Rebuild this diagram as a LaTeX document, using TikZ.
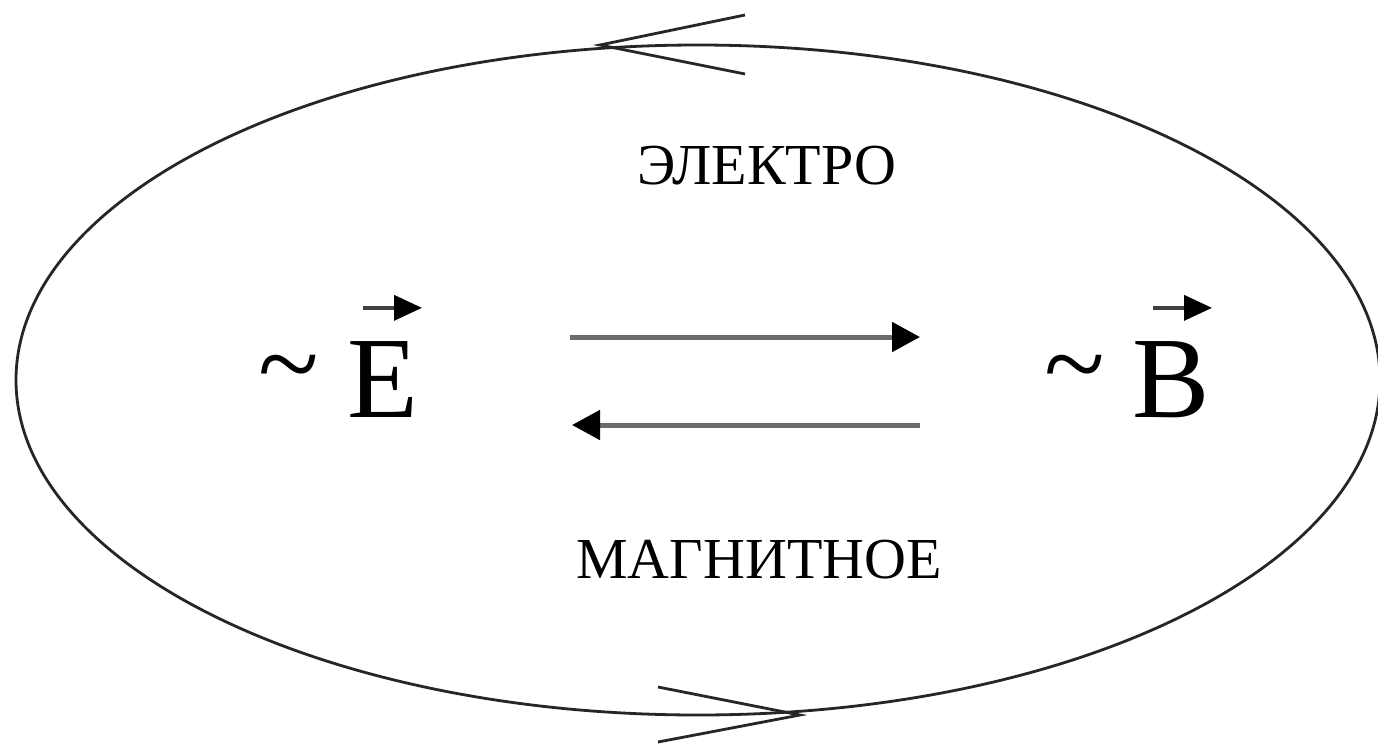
\documentclass[tikz,border=0pt]{standalone}
\usepackage{fontspec}
\setmainfont{Liberation Serif}
\usetikzlibrary{arrows.meta}
\begin{document}
\begin{tikzpicture}[x=1pt,y=-1pt,
  loop/.style={line width=2.8pt,draw=black!85},
  flow/.style={line width=5pt,draw=black!58,-{Triangle[length=28pt,width=29pt,black]}},
  vecarrow/.style={line width=3.8pt,draw=black!75,-{Triangle[length=28pt,width=25pt,black]}},
  word/.style={font=\fontsize{58}{58}\selectfont,inner sep=0pt},
  letter/.style={font=\fontsize{116}{116}\selectfont,inner sep=0pt,anchor=base},
  tild/.style={font=\fontsize{112}{112}\selectfont,inner sep=0pt,anchor=base}]
\useasboundingbox[fill=white] (0,0) rectangle (1378,747);
% big loop
\draw[loop] (698,380) ellipse [x radius=682pt, y radius=335pt];
% open arrowheads on the loop
\coordinate (ta) at (745,15);
\coordinate (tt) at (600,45);
\coordinate (tb) at (745,74);
\draw[loop] (ta) -- (tt) -- (tb);
\coordinate (ba) at (658,687);
\coordinate (bt) at (800,715);
\coordinate (bb) at (658,742);
\draw[loop] (ba) -- (bt) -- (bb);
% texts
\node[word] (el) at (767,166) {ЭЛЕКТРО};
\node[word] (mag) at (759,560) {МАГНИТНОЕ};
% E and B
\node[tild] (t1) at (289,401) {\textasciitilde};
\node[letter] (E) at (383,417) {E};
\node[tild] (t2) at (1075,401) {\textasciitilde};
\node[letter] (B) at (1171,417) {B};
\draw[vecarrow] ([xshift=-20pt,yshift=33pt]E.north) -- ([xshift=39pt,yshift=33pt]E.north);
\draw[vecarrow] ([xshift=-18pt,yshift=33pt]B.north) -- ([xshift=41pt,yshift=33pt]B.north);
% middle arrows
\coordinate (a1) at (570,337);
\coordinate (a2) at (920,337);
\coordinate (b1) at (920,425);
\coordinate (b2) at (572,425);
\draw[flow] (a1) -- (a2);
\draw[flow] (b1) -- (b2);
\end{tikzpicture}
\end{document}
